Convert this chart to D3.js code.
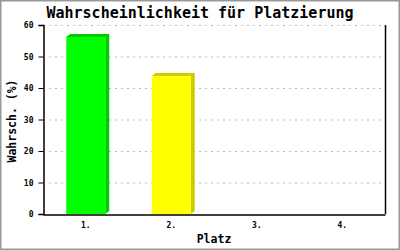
<!DOCTYPE html>
<html><head><meta charset="utf-8">
<script src="https://cdn.jsdelivr.net/npm/d3@7"></script>
<style>body{margin:0;background:#fff}svg{display:block}</style>
</head><body>
<script>
const categories = ["1.", "2.", "3.", "4."];
const values = [56.2, 43.8, 0, 0];
const frontColors = ["#00ff00", "#ffff00", "#ff0000", "#0000ff"];
const sideColors = ["#00cc00", "#cccc00", "#cc0000", "#0000cc"];
const yTicks = [0, 10, 20, 30, 40, 50, 60];
const title = "Wahrscheinlichkeit für Platzierung";
const xTitle = "Platz";
const yTitle = "Wahrsch. (%)";

const W = 400, H = 250;
const m = {left: 43, right: 15, top: 25, bottom: 36};
const svg = d3.select("body").append("svg").attr("width", W).attr("height", H);
svg.append("rect").attr("x", 0.5).attr("y", 0.5).attr("width", W - 1).attr("height", H - 1)
  .attr("fill", "#fff").attr("stroke", "#999").attr("stroke-width", 2);

const x = d3.scaleBand().domain(categories).range([m.left, W - m.right]).paddingInner(0.544).paddingOuter(0.272);
const y = d3.scaleLinear().domain([0, 60]).range([H - m.bottom, m.top]);
const font = "'DejaVu Sans Mono', monospace";

// grid
svg.append("g").selectAll("line").data(yTicks.filter(d => d > 0)).join("line")
  .attr("x1", m.left + 6).attr("x2", W - m.right - 3)
  .attr("y1", d => y(d) + 0.5).attr("y2", d => y(d) + 0.5)
  .attr("stroke", "#bbb").attr("stroke-dasharray", "2,4");

// bars 3D
const dx = 4, dy = 3;
const bars = svg.append("g").selectAll("g").data(values.map((v, i) => ({v, i}))).join("g");
bars.filter(d => d.v > 0).append("path")
  .attr("d", d => {
    const x0 = x(categories[d.i]), x1 = x0 + x.bandwidth(), yt = y(d.v), yb = y(0);
    return `M${x0},${yt}L${x0 + dx},${yt - dy}L${x1 + dx},${yt - dy}L${x1 + dx},${yb - dy}L${x1},${yb}L${x1},${yt}Z`;
  })
  .attr("fill", d => sideColors[d.i]);
bars.filter(d => d.v > 0).append("rect")
  .attr("x", d => x(categories[d.i])).attr("y", d => y(d.v))
  .attr("width", x.bandwidth()).attr("height", d => y(0) - y(d.v))
  .attr("fill", d => frontColors[d.i]);

// axes
const yAxis = d3.axisLeft(y).tickValues(yTicks).tickSize(5).tickPadding(5).tickFormat(d3.format("d"));
const gy = svg.append("g").attr("transform", `translate(${m.left + 0.5},0)`).call(yAxis);
gy.select(".domain").attr("stroke-width", 1.5);
gy.selectAll("text").attr("font-family", font).attr("font-size", 8).attr("font-weight", "bold");
svg.append("line").attr("x1", W - m.right + 0.5).attr("x2", W - m.right + 0.5)
  .attr("y1", m.top).attr("y2", H - m.bottom).attr("stroke", "#000").attr("stroke-width", 1.5);
const xAxis = d3.axisBottom(x).tickSize(0).tickPadding(8);
const gx = svg.append("g").attr("transform", `translate(0,${H - m.bottom + 0.5})`).call(xAxis);
gx.select(".domain").attr("stroke-width", 1.5);
gx.selectAll("text").attr("font-family", font).attr("font-size", 8).attr("font-weight", "bold");

// titles
svg.append("text").attr("x", 200).attr("y", 18).attr("text-anchor", "middle")
  .attr("font-family", font).attr("font-size", 15).attr("font-weight", "bold").text(title);
svg.append("text").attr("x", (m.left + W - m.right) / 2).attr("y", 243).attr("text-anchor", "middle")
  .attr("font-family", font).attr("font-size", 11.5).attr("font-weight", "bold").text(xTitle);
svg.append("text").attr("transform", `translate(16,121) rotate(-90)`).attr("text-anchor", "middle")
  .attr("font-family", font).attr("font-size", 11.5).attr("font-weight", "bold").text(yTitle);
</script>
</body></html>
